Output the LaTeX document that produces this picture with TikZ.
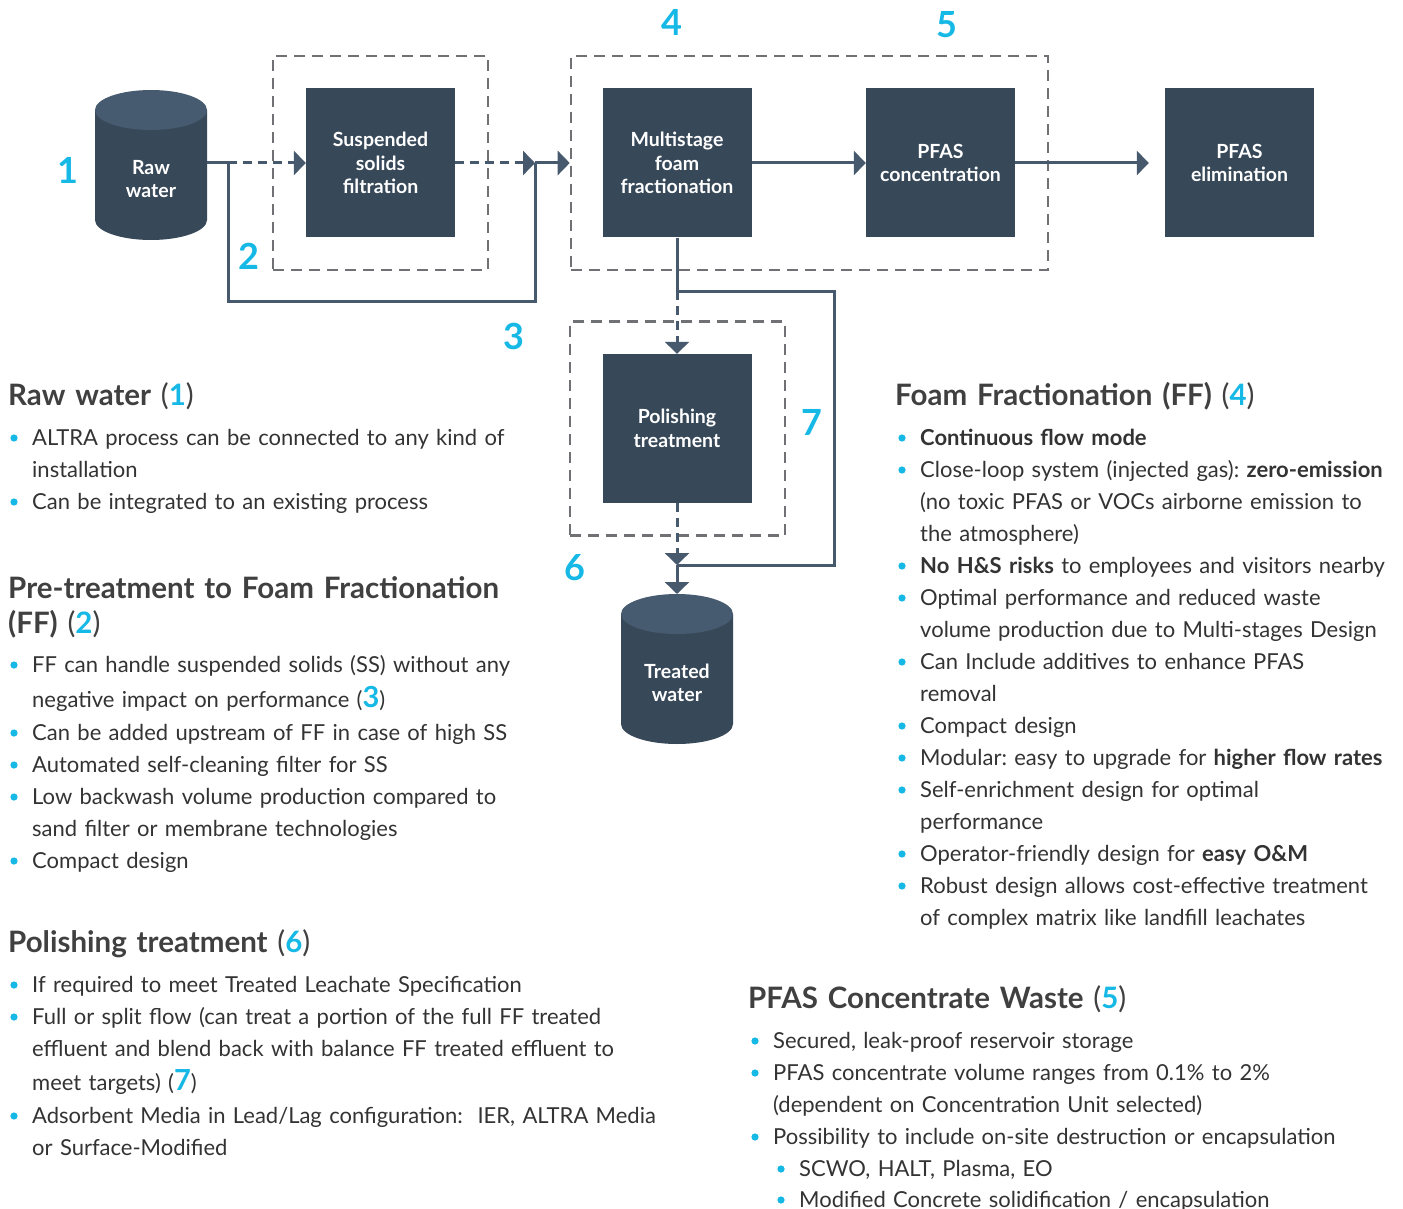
\documentclass[tikz,border=0pt]{standalone}
\usepackage{fontspec}
\setmainfont{Lato}
\usetikzlibrary{arrows.meta}
\definecolor{slate}{HTML}{374859}
\definecolor{slatetop}{HTML}{475B70}
\definecolor{pipe}{HTML}{46596D}
\definecolor{framegray}{HTML}{707174}
\definecolor{accent}{HTML}{16B8E6}
\definecolor{ink}{HTML}{333333}
\definecolor{headink}{HTML}{404040}
\frenchspacing
\tikzset{>={Triangle[width=24pt,length=12pt]}}
\newcommand\unitfont{\fontsize{19.5}{23.5}\selectfont\bfseries}
\newcommand\numfont{\fontsize{36}{36}\selectfont\bfseries}
\newcommand\titlefont{\fontsize{29.5}{35}\selectfont\bfseries}
\newcommand\listfont{\fontsize{22}{32}\selectfont}
\newcommand\secnum[1]{ {\mdseries(}\textcolor{accent}{#1}{\mdseries)}}
\newcommand\bignum[1]{\textcolor{accent}{\fontsize{29}{29}\selectfont\bfseries #1}}
\tikzset{
  procbox/.style={fill=slate, text=white, minimum width=149pt, minimum height=149pt,
    align=center, font=\unitfont},
  dashzone/.style={draw=framegray, line width=2.6pt, dash pattern=on 11pt off 7pt,
    minimum width=215pt, minimum height=214pt},
  flowline/.style={draw=pipe, line width=3pt},
  dashflow/.style={dash pattern=on 9pt off 6pt},
  stepnum/.style={text=accent, font=\numfont, inner sep=0pt},
  sectitle/.style={anchor=base west, inner sep=0pt, text=headink, font=\titlefont,
    text width=600pt, align=left},
  bulletline/.style={anchor=base west, inner sep=0pt, text=ink, font=\listfont,
    text width=700pt, align=left},
  tankbody/.style={fill=slate},
  tanktop/.style={fill=slatetop},
  tanklabel/.style={text=white, align=center, font=\unitfont},
}
% tank: name, centre x, centre y of the lid, text
\newcommand\tank[4]{%
  \fill[tankbody] (#2-56,#3) -- (#2-56,#3+110)
    arc[start angle=180, end angle=0, x radius=56, y radius=20] -- (#2+56,#3) -- cycle;
  \fill[tanktop] (#2,#3) ellipse[x radius=56, y radius=20];
  \node[tanklabel] (#1) at (#2,#3+69) {#4};
  \coordinate (#1-top) at (#2,#3-20);
  \coordinate (#1-side) at (#2+56,#3+53);
}
% bullet: name, x, baseline y, text
\newcommand\bitem[4]{%
  \fill[accent] (#2-18,#3-7) circle (3.6pt);
  \node[bulletline] (#1) at (#2,#3) {#4};
}

\begin{document}
\begin{tikzpicture}[x=1pt, y=-1pt]
  \useasboundingbox[fill=white] (0,0) rectangle (1403,1209);

  % flow sheet
  \tank{raw}{151}{110}{Raw\\water}
  \tank{treated}{677}{614}{Treated\\water}

  \node[dashzone] (sszone) at (380.5,163) {};
  \node[dashzone, minimum width=477pt] (ffzone) at (809.5,163) {};
  \node[dashzone] (polzone) at (677.5,428.5) {};

  \node[procbox] (ss) at (380.5,163) {Suspended\\solids\\filtration};
  \node[procbox] (mff) at (677,163) {Multistage\\foam\\fractionation};
  \node[procbox] (conc) at (940.5,163) {PFAS\\concentration};
  \node[procbox] (elim) at (1239.5,163) {PFAS\\elimination};
  \node[procbox] (polish) at (677,428.5) {Polishing\\treatment};

  \coordinate (split) at (228,163);
  \coordinate (join) at (535,163);
  \coordinate (bend) at (677,291);
  \coordinate (merge) at (677,565);

  \draw[flowline] (raw-side) -- (split);
  \draw[flowline, dashflow, ->] (split) -- (ss.west);
  \draw[flowline, dashflow, ->] (ss.east) -- (join);
  \draw[flowline, ->] (join) -- (ffzone.west);
  \draw[flowline] (split) -- ++(0,138) -| (join);
  \draw[flowline, ->] (mff.east) -- (conc.west);
  \draw[flowline, ->, shorten >=16pt] (conc.east) -- (elim.west);
  \draw[flowline] (mff.south) -- (bend);
  \draw[flowline, dashflow, ->] (bend) -- (polish.north);
  \draw[flowline] (bend) -- ++(157,0) |- (merge);
  \draw[flowline, dashflow, ->] (polish.south) -- (merge);
  \draw[flowline, ->] (merge) -- (treated-top);

  \node[stepnum] (n1) at (68,170) {1};
  \node[stepnum] (n2) at (249,256) {2};
  \node[stepnum] (n3) at (514,336) {3};
  \node[stepnum] (n4) at (672,22) {4};
  \node[stepnum] (n5) at (947,25) {5};
  \node[stepnum] (n6) at (575,568) {6};
  \node[stepnum] (n7) at (812,422) {7};

  % left column
  \node[sectitle] (rawhead) at (8,405) {Raw water\secnum{1}};
  \bitem{rw1}{32}{445}{ALTRA process can be connected to any kind of\\ installation}
  \bitem{rw2}{32}{509}{Can be integrated to an existing process}

  \node[sectitle] (prehead) at (8,598) {Pre-treatment to Foam Fractionation\\ (FF)\secnum{2}};
  \bitem{pt1}{32}{672}{FF can handle suspended solids (SS) without any\\[3pt] negative impact on performance (\bignum{3})}
  \bitem{pt2}{32}{740}{Can be added upstream of FF in case of high SS}
  \bitem{pt3}{32}{772}{Automated self-cleaning filter for SS}
  \bitem{pt4}{32}{804}{Low backwash volume production compared to\\ sand filter or membrane technologies}
  \bitem{pt5}{32}{868}{Compact design}

  \node[sectitle] (polhead) at (8,952) {Polishing treatment\secnum{6}};
  \bitem{po1}{32}{992}{If required to meet Treated Leachate Specification}
  \bitem{po2}{32}{1024}{Full or split flow (can treat a portion of the full FF treated\\ effluent and blend back with balance FF treated effluent to\\[2pt] meet targets) (\bignum{7})}
  \bitem{po3}{32}{1123}{Adsorbent Media in Lead/Lag configuration:\ \ IER, ALTRA Media\\ or Surface-Modified}

  % right column
  \node[sectitle] (ffhead) at (895,405) {Foam Fractionation (FF)\secnum{4}};
  \bitem{ff1}{920}{445}{\textbf{Continuous flow mode}}
  \bitem{ff2}{920}{477}{Close-loop system (injected gas): \textbf{zero-emission}\\ (no toxic PFAS or VOCs airborne emission to\\ the atmosphere)}
  \bitem{ff3}{920}{573}{\textbf{No H\&S risks} to employees and visitors nearby}
  \bitem{ff4}{920}{605}{Optimal performance and reduced waste\\ volume production due to Multi-stages Design}
  \bitem{ff5}{920}{669}{Can Include additives to enhance PFAS\\ removal}
  \bitem{ff6}{920}{733}{Compact design}
  \bitem{ff7}{920}{765}{Modular: easy to upgrade for \textbf{higher flow rates}}
  \bitem{ff8}{920}{797}{Self-enrichment design for optimal\\ performance}
  \bitem{ff9}{920}{861}{Operator-friendly design for \textbf{easy O\&M}}
  \bitem{ff10}{920}{893}{Robust design allows cost-effective treatment\\ of complex matrix like landfill leachates}

  \node[sectitle] (cwhead) at (748,1008) {PFAS Concentrate Waste\secnum{5}};
  \bitem{cw1}{773}{1048}{Secured, leak-proof reservoir storage}
  \bitem{cw2}{773}{1080}{PFAS concentrate volume ranges from 0.1\% to 2\%\\ (dependent on Concentration Unit selected)}
  \bitem{cw3}{773}{1144}{Possibility to include on-site destruction or encapsulation}
  \bitem{cw4}{799}{1176}{SCWO, HALT, Plasma, EO}
  \bitem{cw5}{799}{1207}{Modified Concrete solidification / encapsulation}
\end{tikzpicture}
\end{document}
